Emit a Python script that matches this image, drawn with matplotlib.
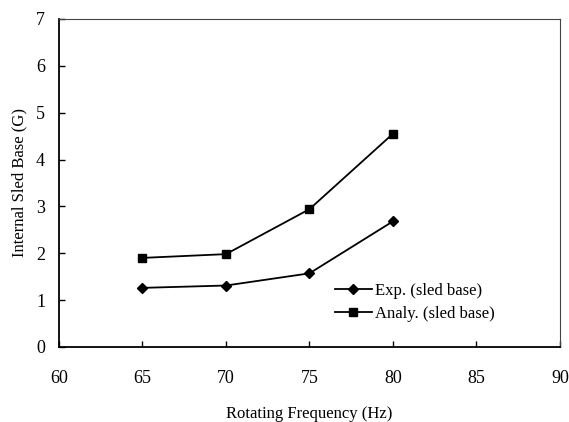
import matplotlib
matplotlib.use("Agg")
import matplotlib.pyplot as plt

plt.rcParams["font.family"] = ["Liberation Serif", "DejaVu Serif"]

# rotating frequency (Hz)
freq = [65, 70, 75, 80]
# internal sled base (G)
exp_sled = [1.26, 1.31, 1.57, 2.68]
analy_sled = [1.90, 1.98, 2.94, 4.55]

fig = plt.figure(figsize=(5.69, 4.22), dpi=100)
ax = fig.add_axes([0.1037, 0.178, 0.8803, 0.777])

ax.plot(freq, exp_sled, color="black", lw=1.3, marker="D", ms=5.5,
        label="Exp. (sled base)")
ax.plot(freq, analy_sled, color="black", lw=1.3, marker="s", ms=5.5,
        label="Analy. (sled base)")

ax.set_xlim(60, 90)
ax.set_ylim(0, 7)
ax.set_xticks(range(60, 91, 5))
ax.set_yticks(range(0, 8))
ax.tick_params(direction="in", length=4, labelsize=13, width=1)
ax.tick_params(axis="x", pad=17)
ax.tick_params(axis="y", pad=10)

ax.set_xlabel("Rotating Frequency (Hz)", fontsize=12, labelpad=13)
ax.set_ylabel("Internal Sled Base (G)", fontsize=12, labelpad=6)

for s in ["left", "bottom"]:
    ax.spines[s].set_linewidth(1.3)
for s in ["top", "right"]:
    ax.spines[s].set_linewidth(0.8)
    ax.spines[s].set_linestyle((0, (2, 1)))
    ax.spines[s].set_color("#444444")

ax.legend(loc="lower right", bbox_to_anchor=(0.9, 0.03), frameon=False,
          fontsize=12, handlelength=2.2, handletextpad=0.2, labelspacing=0.45)

fig.savefig("out.png", dpi=100)
